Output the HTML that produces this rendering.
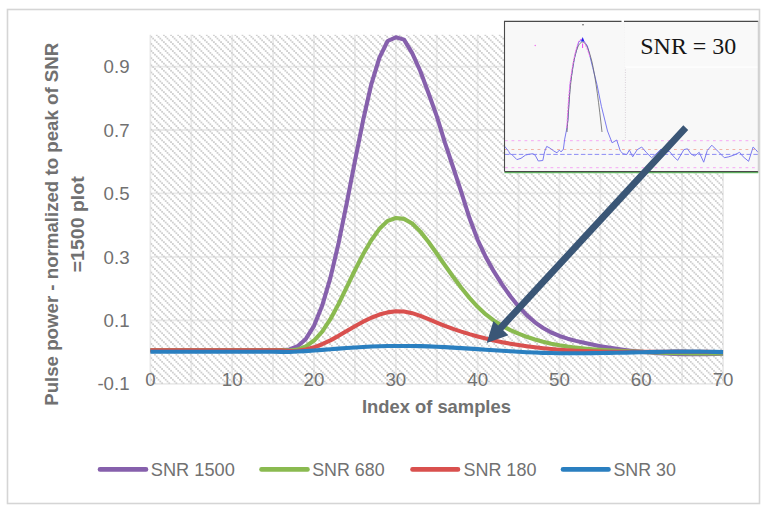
<!DOCTYPE html>
<html><head><meta charset="utf-8"><style>
html,body{margin:0;padding:0;background:#fff;}
body{width:768px;height:510px;overflow:hidden;position:relative;}
svg{position:absolute;left:0;top:0;}
text{font-family:"Liberation Sans",sans-serif;}
</style></head><body>
<svg width="768" height="510" viewBox="0 0 768 510">
<defs>
<pattern id="hatch" patternUnits="userSpaceOnUse" width="7.144" height="7.144" x="150.5" y="35.9"><g fill="#cfcfcf"><rect x="0.000" y="0.000" width="1.786" height="1.786"/><rect x="1.786" y="1.786" width="1.786" height="1.786"/><rect x="3.572" y="3.572" width="1.786" height="1.786"/><rect x="5.358" y="5.358" width="1.786" height="1.786"/></g></pattern>
</defs>
<rect x="7.5" y="9.5" width="752" height="494" fill="#fff" stroke="#d5d5d5" stroke-width="1.6"/>
<g>
<g stroke="#eaeaea" stroke-width="1.8"><line x1="150.40" y1="34.8" x2="150.40" y2="383.9"/><line x1="191.31" y1="34.8" x2="191.31" y2="383.9"/><line x1="232.21" y1="34.8" x2="232.21" y2="383.9"/><line x1="273.12" y1="34.8" x2="273.12" y2="383.9"/><line x1="314.02" y1="34.8" x2="314.02" y2="383.9"/><line x1="354.93" y1="34.8" x2="354.93" y2="383.9"/><line x1="395.83" y1="34.8" x2="395.83" y2="383.9"/><line x1="436.74" y1="34.8" x2="436.74" y2="383.9"/><line x1="477.64" y1="34.8" x2="477.64" y2="383.9"/><line x1="518.54" y1="34.8" x2="518.54" y2="383.9"/><line x1="559.45" y1="34.8" x2="559.45" y2="383.9"/><line x1="600.36" y1="34.8" x2="600.36" y2="383.9"/><line x1="641.26" y1="34.8" x2="641.26" y2="383.9"/><line x1="682.16" y1="34.8" x2="682.16" y2="383.9"/><line x1="723.07" y1="34.8" x2="723.07" y2="383.9"/><line x1="150.4" y1="66.53" x2="723.1" y2="66.53"/><line x1="150.4" y1="129.99" x2="723.1" y2="129.99"/><line x1="150.4" y1="193.45" x2="723.1" y2="193.45"/><line x1="150.4" y1="256.91" x2="723.1" y2="256.91"/><line x1="150.4" y1="320.37" x2="723.1" y2="320.37"/><line x1="150.4" y1="383.83" x2="723.1" y2="383.83"/></g><rect x="150.4" y="34.8" width="572.7" height="349.1" fill="url(#hatch)"/></g>
<g font-size="18.7" fill="#717171"><text x="129.6" y="73.13" text-anchor="end">0.9</text><text x="129.6" y="136.59" text-anchor="end">0.7</text><text x="129.6" y="200.05" text-anchor="end">0.5</text><text x="129.6" y="263.51" text-anchor="end">0.3</text><text x="129.6" y="326.97" text-anchor="end">0.1</text><text x="129.6" y="390.43" text-anchor="end">-0.1</text><text x="150.40" y="385.6" text-anchor="middle">0</text><text x="232.21" y="385.6" text-anchor="middle">10</text><text x="314.02" y="385.6" text-anchor="middle">20</text><text x="395.83" y="385.6" text-anchor="middle">30</text><text x="477.64" y="385.6" text-anchor="middle">40</text><text x="559.45" y="385.6" text-anchor="middle">50</text><text x="641.26" y="385.6" text-anchor="middle">60</text><text x="723.07" y="385.6" text-anchor="middle">70</text></g>
<polyline points="150.40,350.20 158.58,350.20 166.76,350.20 174.94,350.20 183.12,350.20 191.31,350.20 199.49,350.20 207.67,350.20 215.85,350.20 224.03,350.20 232.21,350.20 240.39,350.20 248.57,350.20 256.75,350.20 264.93,350.20 273.12,350.20 281.30,350.17 289.48,349.47 297.66,346.26 305.84,338.94 314.02,325.85 322.20,305.56 330.38,277.89 338.56,243.19 346.74,203.17 354.92,161.08 363.11,120.29 371.29,84.31 379.47,57.69 387.65,41.00 395.83,37.30 404.01,39.60 412.19,53.08 420.37,71.25 428.55,93.25 436.74,116.16 444.92,142.70 453.10,167.27 461.28,192.03 469.46,218.04 477.64,239.84 485.82,257.13 494.00,271.64 502.18,284.63 510.36,296.24 518.54,306.42 526.73,315.13 534.91,322.32 543.09,328.03 551.27,332.49 559.45,335.95 567.63,338.66 575.81,340.87 583.99,342.82 592.17,344.59 600.35,346.19 608.54,347.63 616.72,348.90 624.90,350.03 633.08,351.00 641.26,351.84 649.44,352.53 657.62,353.10 665.80,353.54 673.98,353.87 682.16,354.08 690.35,354.19 698.53,354.20 706.71,354.11 714.89,353.94 723.07,353.68" fill="none" stroke="#8660ac" stroke-width="4.1" stroke-linejoin="round" stroke-linecap="butt"/><polyline points="150.40,350.30 158.58,350.30 166.76,350.30 174.94,350.30 183.12,350.30 191.31,350.30 199.49,350.30 207.67,350.30 215.85,350.30 224.03,350.30 232.21,350.30 240.39,350.30 248.57,350.30 256.75,350.30 264.93,350.30 273.12,350.30 281.30,350.10 289.48,350.53 297.66,349.61 305.84,346.41 314.02,340.53 322.20,331.58 330.38,319.21 338.56,303.98 346.74,287.20 354.92,270.25 363.11,254.32 371.29,240.24 379.47,228.83 387.65,220.90 395.83,218.00 404.01,218.90 412.19,223.45 420.37,231.64 428.55,241.97 436.74,253.48 444.92,265.27 453.10,276.79 461.28,287.76 469.46,297.87 477.64,306.84 485.82,314.42 494.00,320.68 502.18,325.84 510.36,330.11 518.54,333.70 526.73,336.80 534.91,339.46 543.09,341.74 551.27,343.66 559.45,345.26 567.63,346.58 575.81,347.66 583.99,348.53 592.17,349.23 600.35,349.81 608.54,350.28 616.72,350.70 624.90,351.10 633.08,351.50 641.26,351.87 649.44,352.23 657.62,352.55 665.80,352.84 673.98,353.09 682.16,353.29 690.35,353.44 698.53,353.52 706.71,353.54 714.89,353.48 723.07,353.34" fill="none" stroke="#8aba50" stroke-width="4.1" stroke-linejoin="round" stroke-linecap="butt"/><polyline points="150.40,350.40 158.58,350.40 166.76,350.40 174.94,350.40 183.12,350.40 191.31,350.40 199.49,350.40 207.67,350.40 215.85,350.40 224.03,350.40 232.21,350.40 240.39,350.40 248.57,350.40 256.75,350.40 264.93,350.40 273.12,350.40 281.30,350.33 289.48,350.97 297.66,350.76 305.84,349.50 314.02,347.30 322.20,344.22 330.38,340.33 338.56,335.84 346.74,331.04 354.92,326.23 363.11,321.71 371.29,317.76 379.47,314.58 387.65,312.36 395.83,311.27 404.01,311.51 412.19,313.16 420.37,315.87 428.55,319.18 436.74,322.62 444.92,325.86 453.10,328.84 461.28,331.59 469.46,334.12 477.64,336.43 485.82,338.53 494.00,340.43 502.18,342.15 510.36,343.69 518.54,345.06 526.73,346.26 534.91,347.32 543.09,348.24 551.27,349.03 559.45,349.70 567.63,350.25 575.81,350.71 583.99,351.07 592.17,351.34 600.35,351.55 608.54,351.69 616.72,351.77 624.90,351.81 633.08,351.82 641.26,351.80 649.44,351.76 657.62,351.72 665.80,351.68 673.98,351.66 682.16,351.65 690.35,351.68 698.53,351.74 706.71,351.86 714.89,352.04 723.07,352.29" fill="none" stroke="#d9504e" stroke-width="4.1" stroke-linejoin="round" stroke-linecap="butt"/><polyline points="150.40,351.80 158.58,351.80 166.76,351.80 174.94,351.80 183.12,351.80 191.31,351.80 199.49,351.80 207.67,351.80 215.85,351.80 224.03,351.80 232.21,351.80 240.39,351.80 248.57,351.80 256.75,351.80 264.93,351.80 273.12,351.80 281.30,351.91 289.48,351.95 297.66,351.57 305.84,351.09 314.02,350.53 322.20,349.91 330.38,349.27 338.56,348.63 346.74,348.02 354.92,347.45 363.11,346.96 371.29,346.56 379.47,346.26 387.65,346.06 395.83,345.95 404.01,345.93 412.19,346.01 420.37,346.17 428.55,346.41 436.74,346.74 444.92,347.13 453.10,347.58 461.28,348.08 469.46,348.60 477.64,349.15 485.82,349.71 494.00,350.26 502.18,350.80 510.36,351.31 518.54,351.79 526.73,352.21 534.91,352.57 543.09,352.86 551.27,353.06 559.45,353.20 567.63,353.27 575.81,353.29 583.99,353.25 592.17,353.17 600.35,353.06 608.54,352.92 616.72,352.76 624.90,352.59 633.08,352.41 641.26,352.23 649.44,352.06 657.62,351.90 665.80,351.77 673.98,351.67 682.16,351.61 690.35,351.59 698.53,351.62 706.71,351.72 714.89,351.88 723.07,352.12" fill="none" stroke="#2a7fc0" stroke-width="4.1" stroke-linejoin="round" stroke-linecap="butt"/>
<text x="436.4" y="413.4" text-anchor="middle" font-size="18.2" font-weight="bold" fill="#717171" textLength="149" lengthAdjust="spacingAndGlyphs">Index of samples</text>
<g transform="translate(57.5,224.3) rotate(-90)" font-size="18" font-weight="bold" fill="#717171">
<text x="0" y="0" text-anchor="middle" textLength="363" lengthAdjust="spacingAndGlyphs">Pulse power - normalized to peak of SNR</text>
<text x="0" y="26.3" text-anchor="middle" textLength="96" lengthAdjust="spacingAndGlyphs">=1500 plot</text>
</g>
<!-- legend -->
<g stroke-width="4.6" stroke-linecap="round">
<line x1="100" y1="469.4" x2="146" y2="469.4" stroke="#8660ac"/>
<line x1="261.5" y1="469.4" x2="307.5" y2="469.4" stroke="#8aba50"/>
<line x1="412.5" y1="469.4" x2="458" y2="469.4" stroke="#d9504e"/>
<line x1="563" y1="469.4" x2="608.5" y2="469.4" stroke="#2a7fc0"/>
</g>
<g font-size="18.4" fill="#717171">
<text x="150.8" y="476" textLength="84" lengthAdjust="spacingAndGlyphs">SNR 1500</text>
<text x="312.2" y="476" textLength="72.5" lengthAdjust="spacingAndGlyphs">SNR 680</text>
<text x="463.4" y="476" textLength="73" lengthAdjust="spacingAndGlyphs">SNR 180</text>
<text x="613.4" y="476" textLength="62.5" lengthAdjust="spacingAndGlyphs">SNR 30</text>
</g>
<!-- inset -->
<g>
<rect x="504.5" y="21.4" width="253.8" height="150.2" fill="#f8f8f8"/>
<line x1="504.5" y1="172.6" x2="758.3" y2="172.6" stroke="#66cc66" stroke-width="1.1"/>
<g stroke-width="1" fill="none">
<line x1="505" y1="140.7" x2="758" y2="140.7" stroke="#f4a8f4" stroke-dasharray="2.8 3.7"/>
<line x1="505" y1="149.5" x2="758" y2="149.5" stroke="#f2b4a8" stroke-dasharray="2.8 3.7"/>
<line x1="505" y1="154.4" x2="758" y2="154.4" stroke="#8c8cf4" stroke-dasharray="4.5 2.4"/>
<line x1="505" y1="167.7" x2="758" y2="167.7" stroke="#f4a8f4" stroke-dasharray="2.8 3.7"/>
<polyline points="504.60,146.20 508.70,151.40 510.00,153.90 511.90,154.60 516.90,159.60 521.00,158.30 525.50,155.10 528.30,154.40 532.80,153.70 535.10,155.10 538.30,161.00 542.80,160.50 544.70,151.40 546.70,146.40 550.10,148.20 553.80,151.00 557.00,152.80 559.30,150.10 561.10,151.90 563.40,149.10 564.70,139.10 566.50,130.00 568.00,120.00 570.10,84.70 574.40,58.80 578.70,42.00 582.60,39.40 587.40,45.90 592.70,67.50 597.00,84.70 601.40,106.30 604.80,120.00 607.50,131.00 612.10,142.80 616.70,140.00 620.30,151.00 623.00,153.70 626.70,154.60 629.40,150.00 632.70,156.80 637.20,149.70 641.70,147.00 646.20,152.30 651.60,157.70 656.00,154.00 661.00,149.00 665.00,152.00 669.50,151.40 673.10,155.90 677.60,160.40 683.90,149.60 687.50,148.80 691.10,154.10 694.70,155.90 699.20,152.30 703.70,162.20 707.30,150.50 711.80,145.20 718.00,151.40 724.30,157.70 728.80,156.80 734.20,155.00 739.60,152.30 743.20,156.80 748.60,161.30 753.10,147.00 755.80,149.70 758.00,152.30" stroke="#7b7bf0" stroke-width="1" stroke-linejoin="round"/>
<path d="M567,132 C569,100 571,75 574,60 C577,46 580,42 582.6,42 C586,42 589,50 592,62 C596,80 599,105 602,132" stroke="#666" stroke-width="0.8"/>
<path d="M566.8,128 C568,105 569.5,85 571,76 C573,62 576,47 579,41 C580.5,38.5 583,38.3 584.5,42.5 C586,46 588,51 590,57" stroke="#f070f0" stroke-width="1" stroke-dasharray="2.2 1"/><line x1="582.6" y1="43.5" x2="582.6" y2="48" stroke="#ee44ee" stroke-width="1"/>
<line x1="625.4" y1="22" x2="625.4" y2="140" stroke="#d8d0d8" stroke-width="1" stroke-dasharray="1 1.5"/>
</g>
<rect x="625" y="22" width="133" height="45" fill="#f9f9f9"/>
<line x1="625" y1="67.2" x2="758" y2="67.2" stroke="#fff" stroke-width="1.2"/>
<path d="M504.5,171.6 L504.5,21.4 L621.5,21.4 M624,21.4 L758.3,21.4" stroke="#4a4a4a" stroke-width="1.1" fill="none"/>
<line x1="504.5" y1="171.6" x2="758.3" y2="171.6" stroke="#4a4a4a" stroke-width="1.1"/>
<line x1="758.3" y1="21.4" x2="758.3" y2="171.6" stroke="#c8c8c8" stroke-width="1"/>
<circle cx="583" cy="24.8" r="0.7" fill="#333"/>
<circle cx="535.2" cy="45.5" r="0.7" fill="#e6e"/>
<path d="M581,41.5 L582.7,37 L584.4,41.5 Z" fill="#2222ee"/>
<text x="640.3" y="54.3" font-family="Liberation Serif" font-size="24" fill="#161616" textLength="96" lengthAdjust="spacingAndGlyphs" style="font-family:'Liberation Serif',serif">SNR = 30</text>
</g>
<!-- arrow -->
<g fill="#3a5676">
<polygon points="683.3,125.3 688.2,129.9 503.2,330.3 508.4,335.3 486.7,343.1 493.4,321.0 498.2,325.6"/>
</g>
</svg>
</body></html>
